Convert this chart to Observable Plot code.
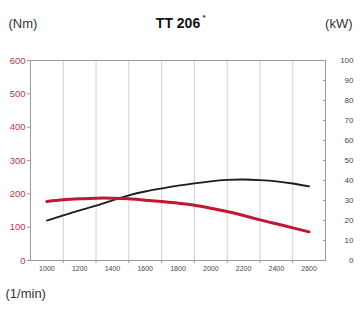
<!DOCTYPE html>
<html>
<head>
<meta charset="utf-8">
<script src="https://cdn.jsdelivr.net/npm/d3@7"></script>
<script src="https://cdn.jsdelivr.net/npm/@observablehq/plot@0.6"></script>
<style>
  html, body { margin: 0; padding: 0; background: #fff; }
  #chart svg { display: block; }
</style>
</head>
<body>
<div id="chart"></div>
<script>
// ---- data ----
const rpm = [1000,1100,1200,1300,1400,1500,1600,1700,1800,1900,2000,2100,2200,2300,2400,2500,2600];
const torqueNm = [177,182,185,187,187,185,181,177,172,166,157,147,135,122,110,98,86];
const powerKw = [20,22.6,25.1,27.4,30.1,32.6,34.5,36.0,37.4,38.6,39.6,40.3,40.5,40.2,39.6,38.5,37.1];
const xTicks = [1000,1200,1400,1600,1800,2000,2200,2400,2600];
const gridX = [1100,1300,1500,1700,1900,2100,2300,2500];
const nmTicks = [0,100,200,300,400,500,600];
const kwTicks = [0,10,20,30,40,50,60,70,80,90,100];
const nmMax = 600, kwMax = 100;
const k = nmMax / kwMax;

const title = "TT 206";
const leftUnit = "(Nm)";
const rightUnit = "(kW)";
const xUnit = "(1/min)";

const rows = rpm.map((r, i) => ({rpm: r, nm: torqueNm[i], kw: powerKw[i]}));

const chart = Plot.plot({
  width: 360,
  height: 314,
  marginLeft: 30,
  marginRight: 35,
  marginTop: 60,
  marginBottom: 54,
  style: {fontFamily: "Arial, 'Liberation Sans', sans-serif", background: "#fff", overflow: "visible"},
  x: {domain: [900, 2700], label: null},
  y: {domain: [0, nmMax], label: null},
  marks: [
    Plot.ruleX(gridX, {stroke: "#d2d2d2", strokeWidth: 1}),
    Plot.frame({stroke: "#9a9a9a", strokeWidth: 1}),
    Plot.axisX(gridX, {tickSize: 3, stroke: "#9a9a9a", tickFormat: () => "", label: null}),
    Plot.axisX(xTicks, {tickSize: 0, tickPadding: 6, fontSize: 7, fill: "#444", tickFormat: d => String(d), label: null}),
    Plot.axisY(nmTicks, {anchor: "left", tickSize: 3, tickPadding: 2, stroke: "#9a9a9a", fontSize: 9.5, fill: "#c0343f", label: null}),
    Plot.axisY(kwTicks.map(v => v * k), {anchor: "right", tickSize: -3, stroke: "#9a9a9a", tickPadding: 31, textAnchor: "end", fontSize: 8, fill: "#444", tickFormat: d => String(Math.round(d / k)), label: null}),
    Plot.lineY(rows, {x: "rpm", y: d => d.kw * k, stroke: "#1c1c1c", strokeWidth: 1.8, curve: "natural"}),
    Plot.lineY(rows, {x: "rpm", y: "nm", stroke: "#c3172f", strokeWidth: 3, curve: "natural"}),
    Plot.text([leftUnit], {frameAnchor: "top-left", dx: -22, dy: -42, textAnchor: "start", fontSize: 13, fill: "#333"}),
    Plot.text([rightUnit], {frameAnchor: "top-right", dx: 27, dy: -42, textAnchor: "end", fontSize: 13, fill: "#333"}),
    Plot.text([title], {frameAnchor: "top", dx: 0, dy: -42, fontSize: 14, fontWeight: "bold", fill: "#111"}),
    Plot.text(["*"], {frameAnchor: "top", dx: 26, dy: -45, fontSize: 7, fontWeight: "bold", fill: "#111"}),
    Plot.text([xUnit], {frameAnchor: "bottom-left", dx: -25, dy: 37, textAnchor: "start", fontSize: 13, fill: "#333"})
  ]
});
document.getElementById("chart").appendChild(chart);
</script>
</body>
</html>
